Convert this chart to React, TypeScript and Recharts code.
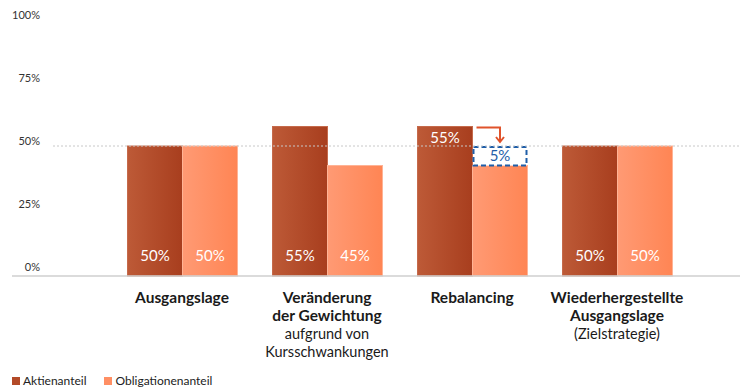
import React from "react";
import { BarChart, Bar, XAxis, YAxis, ReferenceLine, Legend } from "recharts";

const categories = ["Ausgangslage", "Veränderung", "Rebalancing", "Wiederhergestellte"];
const categoryLines = [
  [{ t: "Ausgangslage", b: true }],
  [
    { t: "Veränderung", b: true },
    { t: "der Gewichtung", b: true },
    { t: "aufgrund von", b: false },
    { t: "Kursschwankungen", b: false },
  ],
  [{ t: "Rebalancing", b: true }],
  [
    { t: "Wiederhergestellte", b: true },
    { t: "Ausgangslage", b: true },
    { t: "(Zielstrategie)", b: false },
  ],
];
const aktienValues = [50, 57.5, 57.5, 50];
const obligValues = [50, 42.5, 42.5, 50];
const shiftValues = [0, 0, 7.5, 0];
const aktienLabels = ["50%", "55%", "55%", "50%"];
const obligLabels = ["50%", "45%", "", "50%"];
const shiftLabels = ["", "", "5%", ""];
const aktienLabelTop = [false, false, true, false];
const yTicks = [0, 25, 50, 75, 100];
const yTickLabels = ["0%", "25%", "50%", "75%", "100%"];
const seriesNames = ["Aktienanteil", "Obligationenanteil"];

const data = categories.map((c, i) => ({
  cat: c,
  aktien: aktienValues[i],
  oblig: obligValues[i],
  shift: shiftValues[i],
  aLabel: aktienLabels[i],
  oLabel: obligLabels[i],
  sLabel: shiftLabels[i],
  aTop: aktienLabelTop[i],
}));

const FONT = "Lato, 'Open Sans', sans-serif";
const AK_COLOR = "#B34A28";
const OB_COLOR = "#FF8F64";

const AktienShape = (p: any) => {
  const { x, y, width, height, payload } = p;
  if (!height) return null;
  const ly = payload.aTop ? y + 16 : y + height - 15;
  return (
    <g>
      <rect x={x} y={y} width={width} height={height} fill="url(#gAk)" stroke="#C56A4B" strokeWidth={1} />
      <text x={x + width / 2} y={ly} textAnchor="middle" fill="#fff" fontSize={15} fontFamily={FONT}>
        {payload.aLabel}
      </text>
    </g>
  );
};

const ObligShape = (p: any) => {
  const { x, y, width, height, payload } = p;
  if (!height) return null;
  return (
    <g>
      <rect x={x} y={y} width={width} height={height} fill="url(#gOb)" stroke="#FFB395" strokeWidth={1} />
      {payload.oLabel ? (
        <text x={x + width / 2} y={y + height - 15} textAnchor="middle" fill="#fff" fontSize={15} fontFamily={FONT}>
          {payload.oLabel}
        </text>
      ) : null}
    </g>
  );
};

const ShiftShape = (p: any) => {
  const { x, y, width, height, payload } = p;
  if (!height) return null;
  const topAk = y - height;
  const ax = x + width / 2;
  return (
    <g>
      <rect x={x + 1} y={y + 1} width={width - 2} height={height - 1} fill="#fff" stroke="#1F5EA8" strokeWidth={2} strokeDasharray="5 3" />
      <text x={x + width / 2} y={y + height / 2 + 5.5} textAnchor="middle" fill="#1F5EA8" fontSize={15} fontFamily={FONT}>
        {payload.sLabel}
      </text>
      <path d={`M${x + 4},${topAk + 1} H${ax} V${y - 4}`} fill="none" stroke="#E0532B" strokeWidth={2} />
      <path d={`M${ax - 4},${y - 9} L${ax},${y - 4} L${ax + 4},${y - 9}`} fill="none" stroke="#E0532B" strokeWidth={2} />
    </g>
  );
};

const XTick = (p: any) => {
  const { x, y, index } = p;
  const lines = categoryLines[index] || [];
  return (
    <g>
      {lines.map((l, i) => (
        <text
          key={i}
          x={x}
          y={y + 27 + i * 18}
          textAnchor="middle"
          fill="#1a1a1a"
          fontSize={l.b ? 15.5 : 14.5}
          fontWeight={l.b ? 700 : 400}
          fontFamily={FONT}
        >
          {l.t}
        </text>
      ))}
    </g>
  );
};

const YTick = (p: any) => {
  const { x, y, payload } = p;
  const v = payload.value;
  const i = yTicks.indexOf(v);
  const cy = y - 9 + 0.08 * v;
  return (
    <text x={x + 28} y={cy + 4} textAnchor="end" fill="#333" fontSize={11} fontFamily={FONT}>
      {yTickLabels[i]}
    </text>
  );
};

const GridLine = (p: any) => {
  const { x1, y1, x2, y2 } = p;
  if (x1 == null) return null;
  return <line x1={x1 + 41} y1={y1} x2={x2} y2={y2} stroke="#c8c8c8" strokeWidth={1} strokeDasharray="2 2" />;
};

const LegendContent = () => (
  <div style={{ display: "flex", alignItems: "center", paddingLeft: 41, paddingTop: 12, fontFamily: FONT, fontSize: 12, color: "#222" }}>
    <span style={{ display: "inline-block", width: 8, height: 8, background: AK_COLOR, marginRight: 3 }} />
    <span style={{ marginRight: 17 }}>{seriesNames[0]}</span>
    <span style={{ display: "inline-block", width: 8, height: 8, background: OB_COLOR, marginRight: 4 }} />
    <span>{seriesNames[1]}</span>
  </div>
);

export default function App() {
  return (
    <div style={{ position: "absolute", left: 0, top: 0, width: 746, height: 391, background: "#fff" }}>
      <BarChart
        width={746}
        height={391}
        data={data}
        margin={{ top: 16, right: 6, left: -29, bottom: 0 }}
        barGap={0}
        barSize={55}
      >
        <defs>
          <linearGradient id="gAk" x1="0" y1="0" x2="1" y2="0">
            <stop offset="0%" stopColor="#BD5A37" />
            <stop offset="100%" stopColor="#A83E1E" />
          </linearGradient>
          <linearGradient id="gOb" x1="0" y1="0" x2="1" y2="0">
            <stop offset="0%" stopColor="#FF9A74" />
            <stop offset="100%" stopColor="#FF8554" />
          </linearGradient>
        </defs>
        <XAxis
          dataKey="cat"
          height={85}
          padding={{ left: 97.5, right: 50.5 }}
          tickLine={false}
          tickSize={0}
          tickMargin={0}
          axisLine={{ stroke: "#cfcfcf", strokeWidth: 1.5 }}
          tick={<XTick />}
          interval={0}
        />
        <YAxis
          domain={[0, 100]}
          ticks={yTicks}
          width={41}
          axisLine={false}
          tickLine={false}
          tickSize={0}
          tickMargin={0}
          tick={<YTick />}
        />
        <ReferenceLine y={50} shape={<GridLine />} />
        <Legend verticalAlign="bottom" align="left" height={30} content={<LegendContent />} />
        <Bar dataKey="aktien" stackId="a" name={seriesNames[0]} fill={AK_COLOR} shape={<AktienShape />} isAnimationActive={false} />
        <Bar dataKey="oblig" stackId="o" name={seriesNames[1]} fill={OB_COLOR} shape={<ObligShape />} isAnimationActive={false} />
        <Bar dataKey="shift" stackId="o" legendType="none" fill="#fff" shape={<ShiftShape />} isAnimationActive={false} />
      </BarChart>
    </div>
  );
}
